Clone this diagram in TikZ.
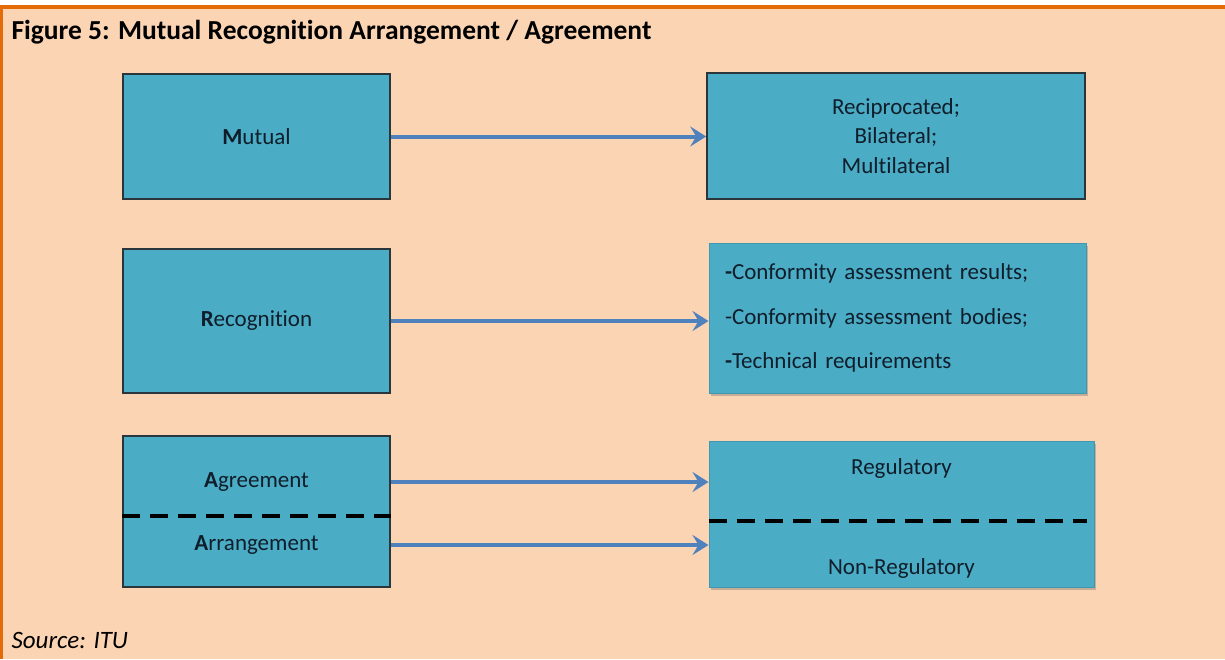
\documentclass[tikz,border=0pt]{standalone}
\usepackage{fontspec}
\setmainfont{Carlito}[Ligatures=NoCommon]
\usetikzlibrary{arrows.meta,shadows}

\definecolor{peach}{HTML}{FBD4B4}
\definecolor{frameorange}{HTML}{E36C09}
\definecolor{boxblue}{HTML}{4BACC6}
\definecolor{boxline}{HTML}{2B363C}
\definecolor{softline}{HTML}{4297B0}
\definecolor{arrowblue}{HTML}{4F81BD}
\definecolor{boxtext}{HTML}{0F1E2A}

\tikzstyle{term}=[
  draw=boxline,
  fill=boxblue,
  line width=1.6pt,
  text=boxtext,
  inner sep=0pt,
  minimum width=267pt,
  font=\fontsize{23}{28}\selectfont,
  ]
\tikzstyle{meaning}=[
  draw=softline,
  fill=boxblue,
  line width=1pt,
  text=boxtext,
  inner sep=0pt,
  drop shadow={shadow xshift=2pt, shadow yshift=-3pt, opacity=0.35, fill=black!60},
  font=\fontsize{23}{28}\selectfont,
  ]
\tikzstyle{word}=[ text=boxtext, inner sep=0pt, font=\fontsize{23}{28}\selectfont ]
\tikzstyle{link}=[ arrowblue, line width=4pt, -{Stealth[length=16pt,width=20pt,inset=6pt]} ]
\tikzstyle{divider}=[ black, line width=4pt, dash pattern=on 18pt off 10pt ]

\begin{document}
\begin{tikzpicture}[x=1pt, y=-1pt]
  \useasboundingbox (0,0) rectangle (1225,659);
  \fill[white] (0,0) rectangle (1225,659);
  \fill[peach] (0,5) rectangle (1225,659);
  \fill[frameorange] (0,5) rectangle (1225,9);
  \fill[frameorange] (0,5) rectangle (3,659);

  \node[anchor=base west, font=\fontsize{27.5}{32}\selectfont\bfseries] (fig) at (8,39)
    {Figure 5: Mutual Recognition Arrangement / Agreement};

  % first row
  \node[term, minimum height=125pt] (mutual) at (256.5,136.5) {\textbf{M}utual};
  \node[term, minimum width=378pt, minimum height=126pt, align=center,
    font=\fontsize{23}{29.5}\selectfont] (reciprocal) at (896,136)
    {Reciprocated;\\Bilateral;\\Multilateral};
  \draw[link] (mutual.east) -- (mutual.east -| reciprocal.west);

  % second row
  \node[term, minimum height=144pt] (recognition) at (256.5,321) {\textbf{R}ecognition};
  \node[meaning, minimum width=377pt, minimum height=150pt, text width=345pt, align=left,
    font=\fontsize{23}{44.5}\selectfont] (conformity) at (897.5,318)
    {\textbf{-}Conformity assessment results;\\-Conformity assessment bodies;\\\textbf{-}Technical requirements};
  \draw[link] (recognition.east) -- (recognition.east -| conformity.west);

  % third row
  \node[term, minimum height=151pt] (agreebox) at (256.5,511.5) {};
  \node[meaning, minimum width=385pt, minimum height=146pt] (regbox) at (901.5,514) {};
  \draw[divider] ([yshift=-4.5pt]agreebox.west) -- ([yshift=-4.5pt]agreebox.east);
  \draw[divider] ([yshift=-7pt]regbox.west) -- ([yshift=-7pt,xshift=-8pt]regbox.east);

  \node[word] (agreement) at (256.5,482) {\textbf{A}greement};
  \node[word] (arrangement) at (256.5,545) {\textbf{A}rrangement};
  \node[word] (regulatory) at (901.5,468) {Regulatory};
  \node[word] (nonreg) at (901.5,568) {Non-Regulatory};
  \draw[link] (agreement -| agreebox.east) -- (agreement -| regbox.west);
  \draw[link] (arrangement -| agreebox.east) -- (arrangement -| regbox.west);

  \node[anchor=base west, font=\fontsize{25}{30}\selectfont\itshape] (source) at (8,648) {Source: ITU};
\end{tikzpicture}
\end{document}
